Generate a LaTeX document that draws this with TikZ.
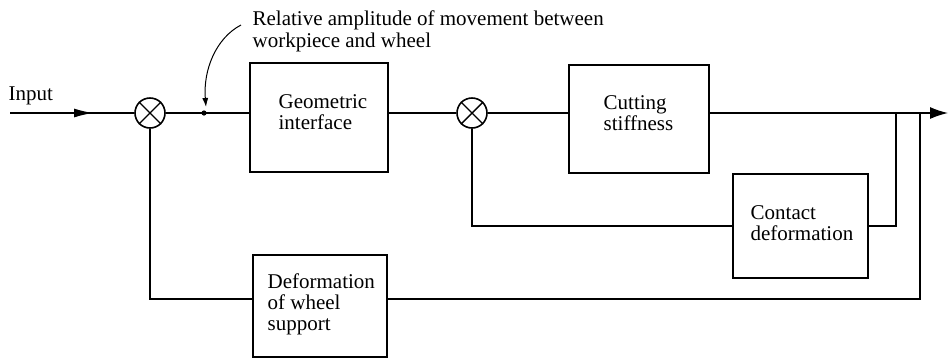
\documentclass[tikz,border=0pt]{standalone}
\usepackage{fontspec}
\setmainfont{Liberation Serif}
\usetikzlibrary{arrows.meta,calc}

\begin{document}
\begin{tikzpicture}[x=1pt,y=-1pt,
  line width=1.3pt,
  blk/.style={draw,line width=1.7pt,inner sep=0pt},
  sum/.style={draw,circle,line width=1.6pt,minimum size=30pt,inner sep=0pt},
  lbl/.style={font=\fontsize{21}{21}\selectfont,align=left,inner sep=0pt,anchor=base west},
  bigtip/.style={-{Latex[length=18pt,width=12pt]}},
  midtip/.style={-{Latex[length=19pt,width=9pt]}}
]
\useasboundingbox (0,0) rectangle (948,360);

% summing junctions
\node[sum] (s1) at (150,113) {};
\node[sum] (s2) at (472,113) {};
\foreach \s in {s1,s2}{
  \draw[line width=1.4pt] (\s.north west) -- (\s.south east);
  \draw[line width=1.4pt] (\s.north east) -- (\s.south west);
}

% blocks
\node[blk,minimum width=138pt,minimum height=109pt] (geo) at (319,117.5) {};
\node[blk,minimum width=140pt,minimum height=108pt] (cut) at (639,119) {};
\node[blk,minimum width=135pt,minimum height=104pt] (con) at (800.5,226) {};
\node[blk,minimum width=134pt,minimum height=102pt] (def) at (320,306) {};

% block texts (anchored on the baseline of their last line)
\node[lbl] (geo-t) at (278,129) {Geometric\\interface};
\node[lbl] (cut-t) at (603,130) {Cutting\\stiffness};
\node[lbl] (con-t) at (750,240) {Contact\\deformation};
\node[lbl] (def-t) at (267,330) {Deformation\\of wheel\\support};
\node[lbl] (in-t) at (8,100) {Input};
\node[lbl,font=\fontsize{21}{22}\selectfont] (note) at (252,47)
  {Relative amplitude of movement between\\workpiece and wheel};

% key points
\coordinate (in) at (10,113);
\coordinate (intip) at (93,113);
\coordinate (pick) at (204,113);
\coordinate (out) at (948,113);
\coordinate (j1) at (896,113);
\coordinate (j2) at (920,113);
\coordinate (fb) at (920,299);

% forward path
\draw (in) -- (s1.west);
\draw[midtip] (in) -- (intip);
\draw (s1.east) -- (geo.west |- s1);
\fill (pick) circle (2.6pt);
\draw (geo.east |- s2) -- (s2.west);
\draw (s2.east) -- (cut.west |- s2);
\draw[bigtip] (cut.east |- s2) -- (out);

% contact deformation loop
\draw (j1) |- (con.east);
\draw (con.west) -| (s2.south);

% wheel support loop
\draw (j2) -- (fb) -- (def.east |- fb);
\draw (def.west |- fb) -| (s1.south);

% annotation pointer
\draw[-{Latex[length=9pt,width=6pt]},line width=1pt]
  (241,25) .. controls (216,38) and (203,70) .. (206,107);
\end{tikzpicture}
\end{document}
